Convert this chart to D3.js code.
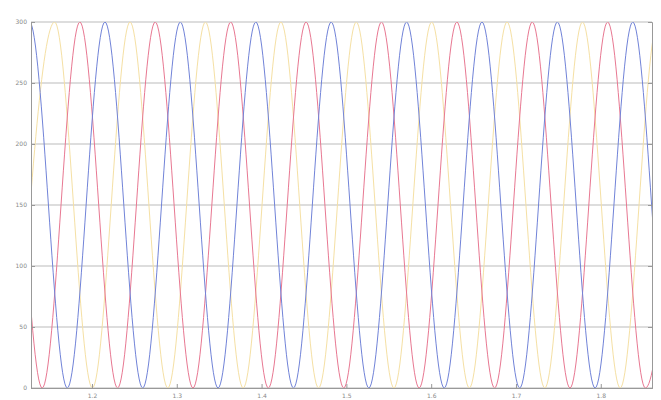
<!DOCTYPE html>
<html>
<head>
<meta charset="utf-8">
<script src="https://cdn.jsdelivr.net/npm/d3@7"></script>
<style>
  body { margin: 0; background: #fff; }
  svg { display: block; }
  .tick text { font-family: "DejaVu Sans", sans-serif; font-size: 6px; fill: #888; }
</style>
</head>
<body>
<svg id="chart"></svg>
<script>
// x tick labels and y tick labels
const xTicks = [1.2, 1.3, 1.4, 1.5, 1.6, 1.7, 1.8];
const yTicks = [0, 50, 100, 150, 200, 250, 300];

// peaks (300) and troughs (0), [t, value]
const phaseA = [ // blue
  [1.0819, 0], [1.1264, 300], [1.1709, 0], [1.2153, 300], [1.2598, 0], [1.3042, 300],
  [1.3487, 0], [1.3932, 300], [1.4376, 0], [1.4821, 300], [1.5265, 0], [1.5710, 300],
  [1.6154, 0], [1.6599, 300], [1.7044, 0], [1.7488, 300], [1.7933, 0], [1.8377, 300],
  [1.8822, 0], [1.9267, 300]
];
const phaseB = [ // red
  [1.0524, 0], [1.0968, 300], [1.1413, 0], [1.1857, 300], [1.2302, 0], [1.2746, 300],
  [1.3191, 0], [1.3636, 300], [1.4080, 0], [1.4525, 300], [1.4969, 0], [1.5414, 300],
  [1.5858, 0], [1.6303, 300], [1.6748, 0], [1.7192, 300], [1.7637, 0], [1.8081, 300],
  [1.8526, 0], [1.8971, 300]
];
const phaseC = [ // yellow
  [1.1116, 0], [1.1560, 300], [1.2005, 0], [1.2449, 300], [1.2894, 0], [1.3338, 300],
  [1.3783, 0], [1.4228, 300], [1.4672, 0], [1.5117, 300], [1.5561, 0], [1.6006, 300],
  [1.6450, 0], [1.6895, 300], [1.7340, 0], [1.7784, 300], [1.8229, 0], [1.8673, 300],
  [1.9118, 0]
];

const W = 661, H = 400;
const margin = { top: 22, right: 9, bottom: 12, left: 31 };
const width = W - margin.left - margin.right;
const height = H - margin.top - margin.bottom;

const svg = d3.select("#chart").attr("width", W).attr("height", H);
const g = svg.append("g").attr("transform", "translate(" + margin.left + "," + margin.top + ")");

const x = d3.scaleLinear().domain([1.1281, 1.8604]).range([0, width]);
const y = d3.scaleLinear().domain([0, 300]).range([height, 0]);

// grid
g.append("g").selectAll("line").data(yTicks).enter().append("line")
  .attr("x1", 0).attr("x2", width)
  .attr("y1", d => y(d)).attr("y2", d => y(d))
  .attr("stroke", "#bbb").attr("stroke-width", 1);

g.append("defs").append("clipPath").attr("id", "clip")
  .append("rect").attr("width", width).attr("height", height + 1);

const lineGen = d3.line().x(d => x(d[0])).y(d => y(d[1])).curve(d3.curveMonotoneX);

const series = [
  { data: phaseC, color: "#f5e0a4" },
  { data: phaseB, color: "#e87892" },
  { data: phaseA, color: "#7183d8" }
];
g.append("g").attr("clip-path", "url(#clip)")
  .selectAll("path").data(series).enter().append("path")
  .attr("d", d => lineGen(d.data))
  .attr("fill", "none")
  .attr("stroke", d => d.color)
  .attr("stroke-width", 1);

// axes
const xAxis = d3.axisBottom(x).tickValues(xTicks).tickSize(-4).tickPadding(6).tickFormat(d3.format(".1f"));
const yAxis = d3.axisLeft(y).tickValues(yTicks).tickSize(-4).tickPadding(4);

g.append("g").attr("transform", "translate(0," + height + ")").call(xAxis);
g.append("g").call(yAxis);
g.append("g").attr("transform", "translate(" + width + ",0)")
  .call(d3.axisRight(y).tickValues(yTicks).tickSize(-4).tickFormat(""));
g.selectAll(".domain, .tick line").attr("stroke", "#999");
</script>
</body>
</html>
